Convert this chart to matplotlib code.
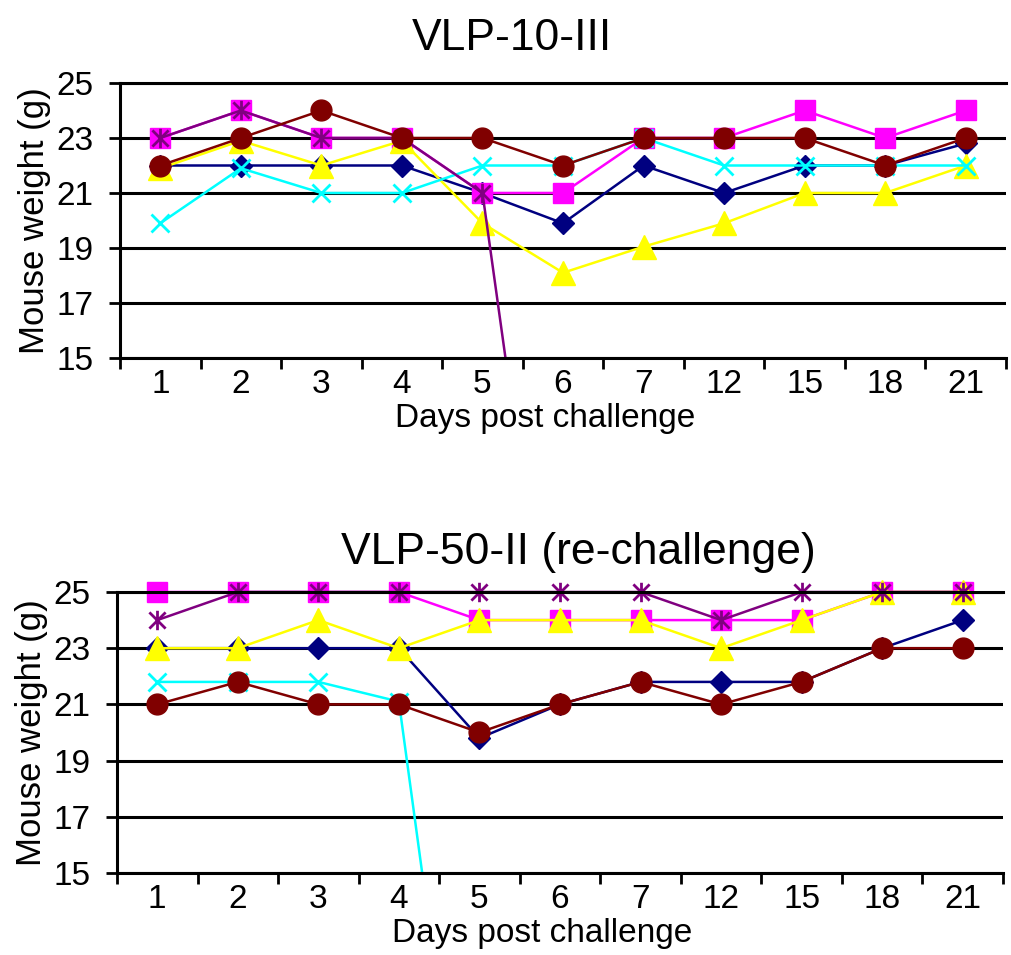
import numpy as np
import matplotlib
matplotlib.use('Agg')
import matplotlib.pyplot as plt
from matplotlib.path import Path

plt.rcParams['font.family'] = ['Liberation Sans', 'DejaVu Sans']

nan = np.nan
days = ['1', '2', '3', '4', '5', '6', '7', '12', '15', '18', '21']

# VLP-10-III (top panel), one list per mouse
top_navy = [22, 22, 22, 22, 21, 19.9, 22, 21, 22, 22, 22.8]
top_magenta = [23, 24, 23, 23, 21, 21, 23, 23, 24, 23, 24]
top_yellow = [21.9, 22.9, 22, 22.9, 19.9, 18.1, 19.05, 19.9, 21, 21, 22]
top_cyan = [19.9, 21.9, 21, 21, 22, 22, 23, 22, 22, 22, 22]
top_purple = [23, 24, 23, 23, 21, 0, nan, nan, nan, nan, nan]
top_brown = [22, 23, 24, 23, 23, 22, 23, 23, 23, 22, 23]

# VLP-50-II re-challenge (bottom panel)
bot_navy = [23, 23, 23, 23, 19.8, 21, 21.8, 21.8, 21.8, 23, 24]
bot_magenta = [25, 25, 25, 25, 24, 24, 24, 24, 24, 25, 25]
bot_yellow = [23, 23, 24, 23, 24, 24, 24, 23, 24, 25, 25]
bot_cyan = [21.8, 21.8, 21.8, 21.1, 0, nan, nan, nan, nan, nan, nan]
bot_purple = [24, 25, 25, 25, 25, 25, 25, 24, 25, 25, 25]
bot_brown = [21, 21.8, 21, 21, 20, 21, 21.8, 21, 21.8, 23, 23]

# Excel-like "star" marker: an X with a vertical bar through it
star = Path([(-1, -1), (1, 1), (-1, 1), (1, -1), (0, -1.2), (0, 1.2)],
            [Path.MOVETO, Path.LINETO, Path.MOVETO, Path.LINETO,
             Path.MOVETO, Path.LINETO])

# old Excel default series styles, in drawing order
styles = [
    dict(color='#000080', marker='D', ms=11),
    dict(color='#FF00FF', marker='s', ms=15),
    dict(color='#FFFF00', marker='^', ms=17),
    dict(color='#00FFFF', marker='x', ms=13, mew=2),
    dict(color='#800080', marker=star, ms=14, mew=2, mfc='none'),
    dict(color='#800000', marker='o', ms=15),
]


def draw_panel(ax, series, title, title_x, title_pad):
    x = np.arange(len(days))
    for vals, st in zip(series, styles):
        vals = np.array(vals, dtype=float)
        keep_inside = np.nanmin(vals) < 15  # dead mouse: line drops off the axis
        ax.plot(x, vals, lw=1.8, clip_on=keep_inside, **st)

    ax.set_xlim(-0.5, len(days) - 0.5)
    ax.set_ylim(15, 25)
    ax.set_yticks([15, 17, 19, 21, 23, 25])
    ax.set_xticks(x)
    ax.set_xticklabels(days)
    ax.set_xticks(np.arange(-0.5, len(days)), minor=True)
    ax.tick_params(axis='x', which='major', length=0, pad=8, labelsize=24)
    ax.tick_params(axis='x', which='minor', length=8, width=2, direction='out')
    ax.tick_params(axis='y', length=16, width=2, direction='inout', pad=11, labelsize=24)
    ax.grid(axis='y', color='black', lw=2.2)
    ax.set_axisbelow(True)
    ax.spines['right'].set_visible(False)
    for s in ['left', 'bottom', 'top']:
        ax.spines[s].set_linewidth(2.2)

    ax.set_ylabel('Mouse weight (g)', fontsize=25, labelpad=4)
    ax.set_xlabel('Days post challenge', fontsize=24, labelpad=2, x=0.48)
    ax.set_title(title, fontsize=32, x=title_x, pad=title_pad)


fig = plt.figure(figsize=(10.11, 9.55), dpi=100)
ax1 = fig.add_axes([0.1187, 0.6251, 0.8764, 0.2880])
ax2 = fig.add_axes([0.1157, 0.0859, 0.8764, 0.2942])

draw_panel(ax1, [top_navy, top_magenta, top_yellow, top_cyan, top_purple, top_brown],
           'VLP-10-III', 0.442, 24)
draw_panel(ax2, [bot_navy, bot_magenta, bot_yellow, bot_cyan, bot_purple, bot_brown],
           'VLP-50-II (re-challenge)', 0.521, 20)

fig.savefig('out.png', dpi=100)
